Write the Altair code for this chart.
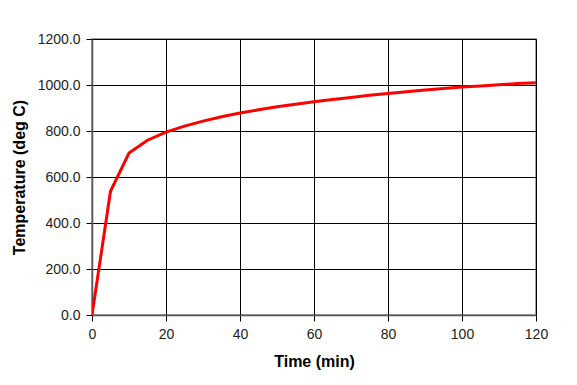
import altair as alt
import pandas as pd

time_min = [0, 5, 10, 15, 20, 25, 30, 35, 40, 45, 50, 55, 60, 65, 70, 75, 80, 85, 90, 95, 100, 105, 110, 115, 120]
temp_c = [0, 538, 704, 760, 795, 821, 843, 862, 878, 892, 905, 916, 927, 937, 946, 955, 963, 971, 978, 985, 991, 996, 1001, 1006, 1010]

df = pd.DataFrame({"t": time_min, "T": temp_c})

chart = alt.Chart(df).mark_line(color="#ff0000", strokeWidth=3, clip=True).encode(
    x=alt.X("t:Q", scale=alt.Scale(domain=[0, 120], nice=False, zero=True),
            axis=alt.Axis(values=[0, 20, 40, 60, 80, 100, 120], title="Time (min)", format="d",
                          titlePadding=12, labelPadding=6, labelFlush=False)),
    y=alt.Y("T:Q", scale=alt.Scale(domain=[0, 1200], nice=False),
            axis=alt.Axis(values=[0, 200, 400, 600, 800, 1000, 1200], title="Temperature (deg C)",
                          format=".1f", titlePadding=10, labelPadding=6, labelFlush=False)),
).properties(
    width=444, height=276,
    autosize=alt.AutoSizeParams(type="none"),
    padding={"left": 84, "top": 31, "right": 33, "bottom": 62},
).configure_axis(
    labelFont="Liberation Sans", titleFont="Liberation Sans",
    labelFontSize=14, titleFontSize=16, titleFontWeight="bold",
    labelColor="#222222", titleColor="#000000",
    gridColor="#000000", gridWidth=1, gridOpacity=1,
    domainColor="#555555", domainWidth=1.5,
    tickColor="#000000", tickSize=6,
).configure_view(stroke="#888888", strokeWidth=1.5)

chart.save("out.html", embed_options={"renderer": "svg", "actions": False})
